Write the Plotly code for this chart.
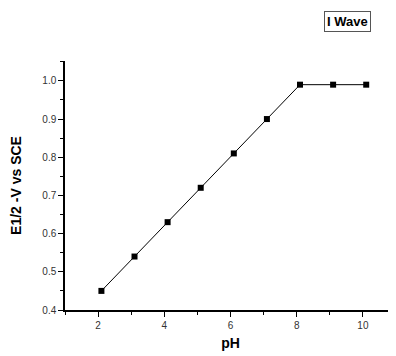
import plotly.graph_objects as go

ph = [2.1, 3.1, 4.1, 5.1, 6.1, 7.1, 8.1, 9.1, 10.1]
e_half = [0.45, 0.54, 0.63, 0.72, 0.81, 0.90, 0.99, 0.99, 0.99]
x_ticks = [2, 4, 6, 8, 10]
y_ticks = [0.4, 0.5, 0.6, 0.7, 0.8, 0.9, 1.0]

fig = go.Figure(go.Scatter(
    x=ph, y=e_half, mode="lines+markers",
    line=dict(color="black", width=1),
    marker=dict(symbol="square", size=6, color="black"),
    showlegend=False,
))

# page body has an 8px default margin; compensate so plot area matches
fig.update_layout(
    width=388, height=348,
    margin=dict(l=57, r=0, t=53, b=46),
    plot_bgcolor="white", paper_bgcolor="white",
    font=dict(family="Liberation Sans, Arial, sans-serif", color="#333"),
    xaxis=dict(
        range=[1, 11], tickvals=x_ticks, ticktext=[str(v) for v in x_ticks],
        automargin=False,
        showline=True, linecolor="black", linewidth=1.5,
        ticks="outside", ticklen=5, tickwidth=1, tickcolor="black",
        minor=dict(tickvals=[1, 3, 5, 7, 9, 11], ticks="outside", ticklen=3, tickcolor="black"),
        showgrid=False, zeroline=False,
        tickfont=dict(size=10, color="#333"),
        title=dict(text="<b>pH</b>", font=dict(size=14, color="black"), standoff=8),
    ),
    yaxis=dict(
        range=[0.4, 1.052], tickvals=y_ticks, ticktext=[f"{v:.1f}" for v in y_ticks],
        automargin=False,
        showline=True, linecolor="black", linewidth=1.5,
        ticks="outside", ticklen=5, tickwidth=1, tickcolor="black",
        minor=dict(tickvals=[0.45, 0.55, 0.65, 0.75, 0.85, 0.95, 1.05], ticks="outside", ticklen=3, tickcolor="black"),
        showgrid=False, zeroline=False,
        tickfont=dict(size=10, color="#333"),
        title=dict(text="<b>E1/2 -V vs SCE</b>", font=dict(size=14, color="black"), standoff=18),
    ),
    annotations=[dict(
        text="<b>I Wave</b>", xref="paper", yref="paper", x=0.852, y=1.157,
        xanchor="center", yanchor="middle", showarrow=False,
        font=dict(size=13, color="black"),
        bordercolor="#555", borderwidth=1, borderpad=2, bgcolor="white",
    )],
)

fig.write_html("out.html")
